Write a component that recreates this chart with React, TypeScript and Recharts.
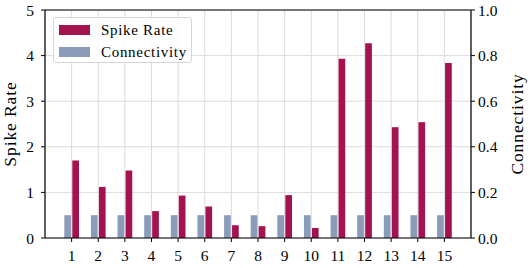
import React from 'react';
import { BarChart, Bar, XAxis, YAxis, CartesianGrid, ReferenceLine, Legend } from 'recharts';

const categories = ['1', '2', '3', '4', '5', '6', '7', '8', '9', '10', '11', '12', '13', '14', '15'];
const spikeRate = [1.70, 1.12, 1.48, 0.59, 0.93, 0.69, 0.28, 0.26, 0.94, 0.22, 3.93, 4.27, 2.43, 2.54, 3.84];
const connectivity = [0.1, 0.1, 0.1, 0.1, 0.1, 0.1, 0.1, 0.1, 0.1, 0.1, 0.1, 0.1, 0.1, 0.1, 0.1];
const leftTicks = [0, 1, 2, 3, 4, 5];
const rightTicks = [0, 0.2, 0.4, 0.6, 0.8, 1.0];

const SPIKE = '#A4134F';
const CONN = '#8A9CBA';
const FONT = '"Liberation Serif", serif';

const data = categories.map((c, i) => ({ name: c, spike: spikeRate[i], conn: connectivity[i] }));

const LegendBox = () => (
  <div
    style={{
      position: 'absolute',
      left: 53,
      top: 17,
      width: 139,
      height: 46,
      boxSizing: 'border-box',
      border: '1px solid #d6d6d6',
      borderRadius: 3,
      background: 'rgba(255,255,255,0.85)',
      fontFamily: FONT,
      fontSize: 15,
      letterSpacing: 0.7,
      color: '#000',
    }}
  >
    {[
      { label: 'Spike Rate', color: SPIKE, top: 5 },
      { label: 'Connectivity', color: CONN, top: 27 },
    ].map((it) => (
      <div key={it.label} style={{ position: 'absolute', left: 5, top: it.top, height: 14, display: 'flex', alignItems: 'center' }}>
        <span style={{ display: 'inline-block', width: 31, height: 10, background: it.color }} />
        <span style={{ marginLeft: 11, lineHeight: '14px', whiteSpace: 'nowrap' }}>{it.label}</span>
      </div>
    ))}
  </div>
);

const tickStyle = { fontFamily: FONT, fontSize: 15.5, fill: '#000' };

export default function App() {
  return (
    <div style={{ position: 'absolute', left: 0, top: 0, width: 530, height: 268, background: '#fff' }}>
      <BarChart
        width={530}
        height={268}
        data={data}
        margin={{ top: 10, right: 0, bottom: 0, left: 0 }}
        barGap={1.3}
      >
        <CartesianGrid yAxisId="left" stroke="#dcdcdc" strokeWidth={1} />
        <XAxis
          dataKey="name"
          height={30}
          padding={{ left: 13.3, right: 13.3 }}
          tick={tickStyle}
          tickSize={4}
          tickMargin={8}
          axisLine={{ stroke: '#000', strokeWidth: 1.2 }}
          tickLine={{ stroke: '#000' }}
          interval={0}
        />
        <YAxis
          yAxisId="left"
          orientation="left"
          width={45}
          domain={[0, 5]}
          ticks={leftTicks}
          tick={tickStyle}
          tickSize={4}
          tickMargin={7}
          axisLine={{ stroke: '#000', strokeWidth: 1.2 }}
          tickLine={{ stroke: '#000' }}
          label={(props: any) => {
            const vb = props.viewBox;
            const cx = vb.x + 10;
            const cy = vb.y + vb.height / 2;
            return (
              <text x={cx} y={cy} transform={`rotate(-90 ${cx} ${cy})`} textAnchor="middle" dominantBaseline="central"
                style={{ fontFamily: FONT, fontSize: 17.5, letterSpacing: 0.9 }} fill="#000">
                Spike Rate
              </text>
            );
          }}
        />
        <YAxis
          yAxisId="right"
          orientation="right"
          width={59}
          domain={[0, 1]}
          ticks={rightTicks}
          tickFormatter={(v: number) => v.toFixed(1)}
          tick={tickStyle}
          tickSize={4}
          tickMargin={3}
          axisLine={{ stroke: '#000', strokeWidth: 1.2 }}
          tickLine={{ stroke: '#000' }}
          label={(props: any) => {
            const vb = props.viewBox;
            const cx = vb.x + 46;
            const cy = vb.y + vb.height / 2;
            return (
              <text x={cx} y={cy} transform={`rotate(-90 ${cx} ${cy})`} textAnchor="middle" dominantBaseline="central"
                style={{ fontFamily: FONT, fontSize: 17.5, letterSpacing: 0.9 }} fill="#000">
                Connectivity
              </text>
            );
          }}
        />
        <ReferenceLine yAxisId="left" y={5} stroke="#000" strokeWidth={1.2} />
        <Bar yAxisId="right" dataKey="conn" name="Connectivity" fill={CONN} barSize={6.7} isAnimationActive={false} />
        <Bar yAxisId="left" dataKey="spike" name="Spike Rate" fill={SPIKE} barSize={6.7} isAnimationActive={false} />
        <Legend layout="horizontal" align="center" verticalAlign="middle" content={() => <LegendBox />}
          wrapperStyle={{ position: 'absolute', left: 0, top: 0, width: 0, height: 0 }} />
      </BarChart>
    </div>
  );
}
